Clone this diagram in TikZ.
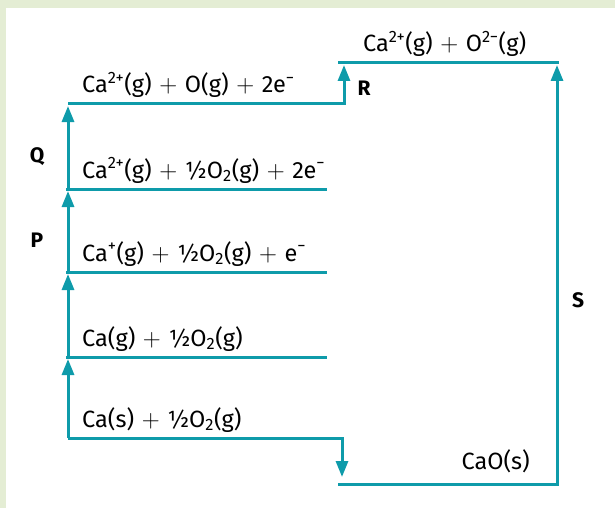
\documentclass[tikz,border=0pt]{standalone}
\usepackage{fontspec}
\setmainfont{Fira Sans}
\usepackage{xcolor}
\definecolor{myteal}{RGB}{14,155,170}
\definecolor{mygreen}{RGB}{228,237,212}
\usepackage{tikz}
\usetikzlibrary{arrows.meta}
\newcommand{\pls}{\hspace{0.06em}$+$\hspace{0.06em}}

\begin{document}
\begin{tikzpicture}[x=1pt,y=-1pt]
	\tikzstyle{lvl}=[line width=3pt,myteal];
	\tikzstyle{up}=[lvl,-{Triangle[width=12pt,length=16pt]},shorten >=2pt];
	\tikzstyle{txt}=[anchor=base west,inner sep=0pt,font=\fontsize{23.5}{28}\selectfont];
	\tikzstyle{lab}=[inner sep=0pt,font=\fontsize{21}{25}\selectfont\bfseries];
	%%
	\fill[mygreen] (0,0) rectangle (615,508);
	\fill[white] (6,8) rectangle (615,508);
	\useasboundingbox (0,0) rectangle (615,508);
	%% levels
	\coordinate (s1)  at (68,438);
	\coordinate (s2)  at (342,438);
	\coordinate (s3)  at (342,484);
	\coordinate (g1)  at (66,357);
	\coordinate (g2)  at (327,357);
	\coordinate (i1)  at (66,272);
	\coordinate (i2)  at (327,272);
	\coordinate (ii1) at (66,189);
	\coordinate (ii2) at (327,189);
	\coordinate (o1)  at (68,104);
	\coordinate (o2)  at (344,104);
	\coordinate (o3)  at (344,63);
	\coordinate (t1)  at (338,63);
	\coordinate (t2)  at (559,63);
	\coordinate (b1)  at (338,484);
	\coordinate (b2)  at (559,484);
	\coordinate (S1)  at (557,484);
	\coordinate (S2)  at (557,63);
	%%
	\draw[lvl] (g1) -- (g2);
	\draw[lvl] (i1) -- (i2);
	\draw[lvl] (ii1) -- (ii2);
	\draw[lvl] (t1) -- (t2);
	\draw[lvl] (b1) -- (b2);
	\draw[up,shorten >=7pt] (s1) -- (s2) -- (s3);
	\draw[up] (o1) -- (o2) -- (o3);
	\draw[up] (s1) -- (g1 -| s1);
	\draw[up] (g1 -| s1) -- (i1 -| s1);
	\draw[up] (i1 -| s1) -- (ii1 -| s1);
	\draw[up] (ii1 -| s1) -- (o1);
	\draw[up] (S1) -- (S2);
	%% Nodes
	\node[txt] (ns)  at ([shift={(14,-11)}]s1)  {Ca(s) \pls{} ½O\textsubscript{2}(g)};
	\node[txt] (ng)  at ([shift={(16,-11)}]g1)  {Ca(g) \pls{} ½O\textsubscript{2}(g)};
	\node[txt] (ni)  at ([shift={(16,-11)}]i1)  {Ca\textsuperscript{+}(g) \pls{} ½O\textsubscript{2}(g) \pls{} e\textsuperscript{−}};
	\node[txt] (nii) at ([shift={(16,-11)}]ii1) {Ca\textsuperscript{2+}(g) \pls{} ½O\textsubscript{2}(g) \pls{} 2e\textsuperscript{−}};
	\node[txt] (no)  at ([shift={(14,-11)}]o1)  {Ca\textsuperscript{2+}(g) \pls{} O(g) \pls{} 2e\textsuperscript{−}};
	\node[txt] (nt)  at ([shift={(25,-11)}]t1)  {Ca\textsuperscript{2+}(g) \pls{} O\textsuperscript{2−}(g)};
	\node[txt,anchor=base east] (nb) at ([shift={(-29,-15)}]b2) {CaO(s)};
	\node[lab] (P) at (37,240) {P};
	\node[lab] (Q) at (37,157) {Q};
	\node[lab] (R) at (364,88) {R};
	\node[lab] (S) at (578,300) {S};
\end{tikzpicture}
\end{document}
